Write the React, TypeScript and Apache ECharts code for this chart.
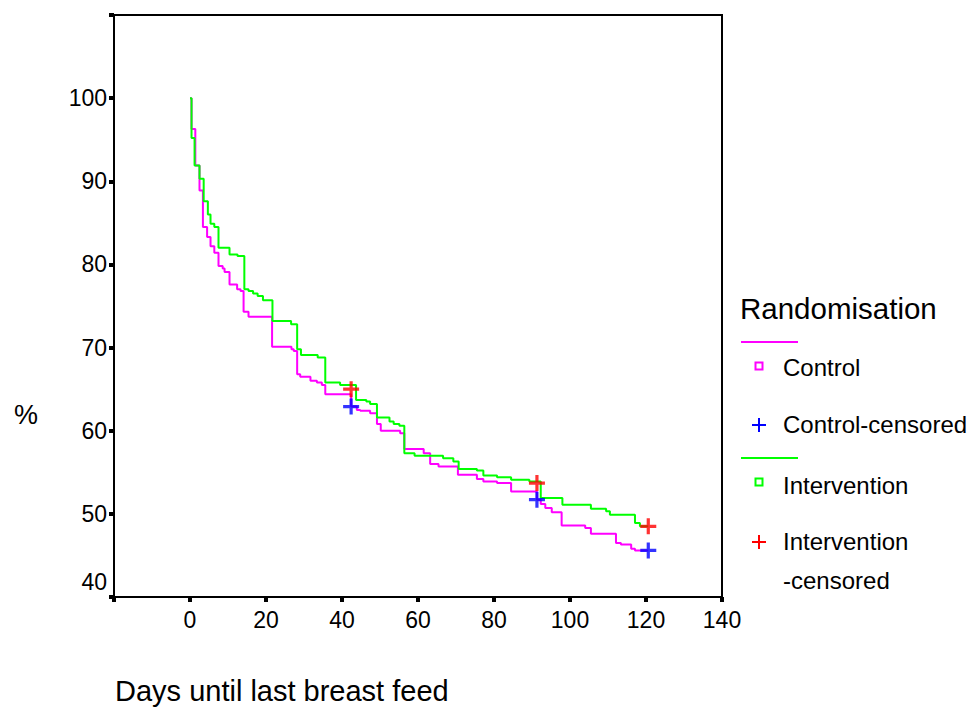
import React, { useEffect, useRef } from "react";
import * as echarts from "echarts";

// Kaplan-Meier steps: days and % still breast feeding
const controlDays = [0, 0.4, 1.4, 2.5, 3.4, 4.5, 5.4, 6.4, 7.5, 8.6, 9.1, 10.4, 12.4, 13.3, 14.1, 15.4, 21.6, 26.7, 27.3, 28.2, 29.0, 31.7, 33.4, 34.7, 35.6, 42.4, 43.9, 44.8, 47.4, 49.2, 50.2, 55.3, 56.4, 61.5, 63.2, 65.4, 70.5, 75.5, 77.2, 80.8, 84.5, 91.3, 92.3, 93.5, 95.2, 97.8, 104.0, 105.5, 112.1, 113.4, 116.1, 117.1, 120.6];
const controlPct = [100, 96.3, 91.9, 88.9, 84.5, 83.3, 82.2, 81.4, 79.8, 79.5, 79.1, 77.6, 77.0, 76.8, 74.3, 73.7, 70.1, 69.8, 69.6, 66.8, 66.5, 66.0, 65.8, 65.5, 64.4, 62.9, 62.5, 62.4, 62.1, 60.8, 60.0, 59.7, 57.8, 57.3, 56.0, 55.7, 54.7, 54.2, 53.9, 53.7, 52.7, 51.7, 51.2, 50.7, 50.2, 48.6, 48.3, 47.6, 46.5, 46.3, 45.8, 45.6, 45.6];

const interventionDays = [0, 0.4, 1.2, 2.5, 3.6, 4.7, 5.4, 6.4, 7.5, 10.4, 12.5, 14.3, 15.4, 16.6, 17.8, 19.2, 21.7, 26.6, 28.2, 29.2, 33.6, 35.6, 39.5, 43.7, 46.4, 47.4, 49.2, 52.5, 53.6, 55.1, 56.4, 59.1, 66.6, 69.3, 70.7, 75.5, 77.2, 80.8, 84.5, 89.3, 92.3, 98.0, 105.5, 109.5, 110.5, 117.1, 118.4, 120.6];
const interventionPct = [100, 95.2, 91.9, 90.3, 87.6, 86.0, 84.9, 84.5, 82.0, 81.2, 81.0, 77.0, 76.8, 76.5, 76.2, 75.7, 73.2, 72.8, 69.8, 69.1, 68.8, 65.8, 65.5, 63.7, 63.5, 63.2, 61.6, 61.1, 60.8, 60.6, 57.3, 57.0, 56.7, 56.3, 55.4, 55.2, 54.6, 54.4, 54.1, 53.9, 51.9, 51.1, 50.6, 50.3, 49.9, 48.9, 48.5, 48.5];

const controlCensorDays = [42.4, 91.3, 120.6];
const controlCensorPct = [62.9, 51.7, 45.6];
const interventionCensorDays = [42.4, 91.3, 120.6];
const interventionCensorPct = [65.0, 53.7, 48.5];

const xTicks = [-20, 0, 20, 40, 60, 80, 100, 120, 140];
const yTicks = [40, 50, 60, 70, 80, 90, 100, 110];

const legendTitle = "Randomisation";
const legendItems = ["Control", "Control-censored", "Intervention", "Intervention", "-censored"];
const xTitle = "Days until last breast feed";
const yTitle = "%";

const FONT = '"Liberation Sans", Arial, sans-serif';
const MAGENTA = "#ff00ff";
const GREEN = "#00ff00";
const BLUE = "#0000ff";
const RED = "#ff0000";
const PLUS = "path://M4,0L6,0L6,4L10,4L10,6L6,6L6,10L4,10L4,6L0,6L0,4L4,4Z";

const zip = (a: number[], b: number[]) => a.map((v, i) => [v, b[i]]);

export default function App() {
  const ref = useRef<HTMLDivElement>(null);
  useEffect(() => {
    if (!ref.current) return;
    const chart = echarts.init(ref.current, undefined, { renderer: "svg" });
    const axisCommon = {
      type: "value" as const,
      splitLine: { show: false },
      axisLine: { show: true, onZero: false, lineStyle: { color: "#000", width: 2 } },
      axisTick: { show: true, length: 5, lineStyle: { color: "#000", width: 4 } },
    };
    const itemFont = "24px " + FONT;
    chart.setOption({
      animation: false,
      backgroundColor: "#fff",
      textStyle: { fontFamily: FONT },
      grid: { left: 114, right: 250, top: 15, bottom: 110, show: true, borderColor: "#000", borderWidth: 2 },
      xAxis: {
        ...axisCommon,
        min: xTicks[0],
        max: xTicks[xTicks.length - 1],
        interval: 20,
        axisLabel: {
          fontSize: 23,
          color: "#000",
          fontFamily: FONT,
          margin: 11,
          showMinLabel: true,
          showMaxLabel: true,
          formatter: (v: number) => (v === xTicks[0] ? "" : String(v)),
        },
      },
      yAxis: {
        ...axisCommon,
        min: yTicks[0],
        max: yTicks[yTicks.length - 1],
        interval: 10,
        axisLabel: {
          fontSize: 23,
          color: "#000",
          fontFamily: FONT,
          margin: 7,
          showMinLabel: true,
          showMaxLabel: true,
          formatter: (v: number) =>
            v === yTicks[yTicks.length - 1] ? "" : v === yTicks[0] ? "{low|" + v + "}" : String(v),
          rich: {
            low: { fontSize: 23, color: "#000", fontFamily: FONT, padding: [0, 0, 30, 0] },
          },
        },
      },
      series: [
        {
          name: "Control",
          type: "line",
          step: "end",
          showSymbol: false,
          data: zip(controlDays, controlPct),
          lineStyle: { color: MAGENTA, width: 2 },
          z: 2,
        },
        {
          name: "Intervention",
          type: "line",
          step: "end",
          showSymbol: false,
          data: zip(interventionDays, interventionPct),
          lineStyle: { color: GREEN, width: 2 },
          z: 3,
        },
        {
          name: "Control-censored",
          type: "scatter",
          symbol: PLUS,
          symbolSize: 16,
          data: zip(controlCensorDays, controlCensorPct),
          itemStyle: { color: BLUE },
          z: 4,
        },
        {
          name: "Intervention-censored",
          type: "scatter",
          symbol: PLUS,
          symbolSize: 16,
          data: zip(interventionCensorDays, interventionCensorPct),
          itemStyle: { color: RED },
          z: 5,
        },
      ],
      graphic: [
        { type: "text", x: 115, y: 691, style: { text: xTitle, fill: "#000", font: "29px " + FONT, verticalAlign: "middle" } },
        { type: "text", x: 26, y: 415, style: { text: yTitle, fill: "#000", font: "27px " + FONT, align: "center", verticalAlign: "middle" } },
        { type: "text", x: 740, y: 308, style: { text: legendTitle, fill: "#000", font: "29.5px " + FONT, verticalAlign: "middle" } },
        { type: "line", shape: { x1: 741, y1: 342, x2: 798, y2: 342 }, style: { stroke: MAGENTA, lineWidth: 2 } },
        { type: "rect", shape: { x: 755.5, y: 362.5, width: 7, height: 7 }, style: { fill: "none", stroke: MAGENTA, lineWidth: 2 } },
        { type: "text", x: 783, y: 367, style: { text: legendItems[0], fill: "#000", font: itemFont, verticalAlign: "middle" } },
        { type: "line", shape: { x1: 752, y1: 425, x2: 766, y2: 425 }, style: { stroke: BLUE, lineWidth: 2 } },
        { type: "line", shape: { x1: 759, y1: 418, x2: 759, y2: 432 }, style: { stroke: BLUE, lineWidth: 2 } },
        { type: "text", x: 783, y: 424, style: { text: legendItems[1], fill: "#000", font: itemFont, verticalAlign: "middle" } },
        { type: "line", shape: { x1: 741, y1: 458, x2: 798, y2: 458 }, style: { stroke: GREEN, lineWidth: 2 } },
        { type: "rect", shape: { x: 755.5, y: 478.5, width: 7, height: 7 }, style: { fill: "none", stroke: GREEN, lineWidth: 2 } },
        { type: "text", x: 783, y: 485, style: { text: legendItems[2], fill: "#000", font: itemFont, verticalAlign: "middle" } },
        { type: "line", shape: { x1: 752, y1: 542, x2: 766, y2: 542 }, style: { stroke: RED, lineWidth: 2 } },
        { type: "line", shape: { x1: 759, y1: 535, x2: 759, y2: 549 }, style: { stroke: RED, lineWidth: 2 } },
        { type: "text", x: 783, y: 541, style: { text: legendItems[3], fill: "#000", font: itemFont, verticalAlign: "middle" } },
        { type: "text", x: 783, y: 580, style: { text: legendItems[4], fill: "#000", font: itemFont, verticalAlign: "middle" } },
      ],
    });
    return () => chart.dispose();
  }, []);
  return <div ref={ref} style={{ position: "fixed", left: 0, top: 0, width: 972, height: 707 }} />;
}
